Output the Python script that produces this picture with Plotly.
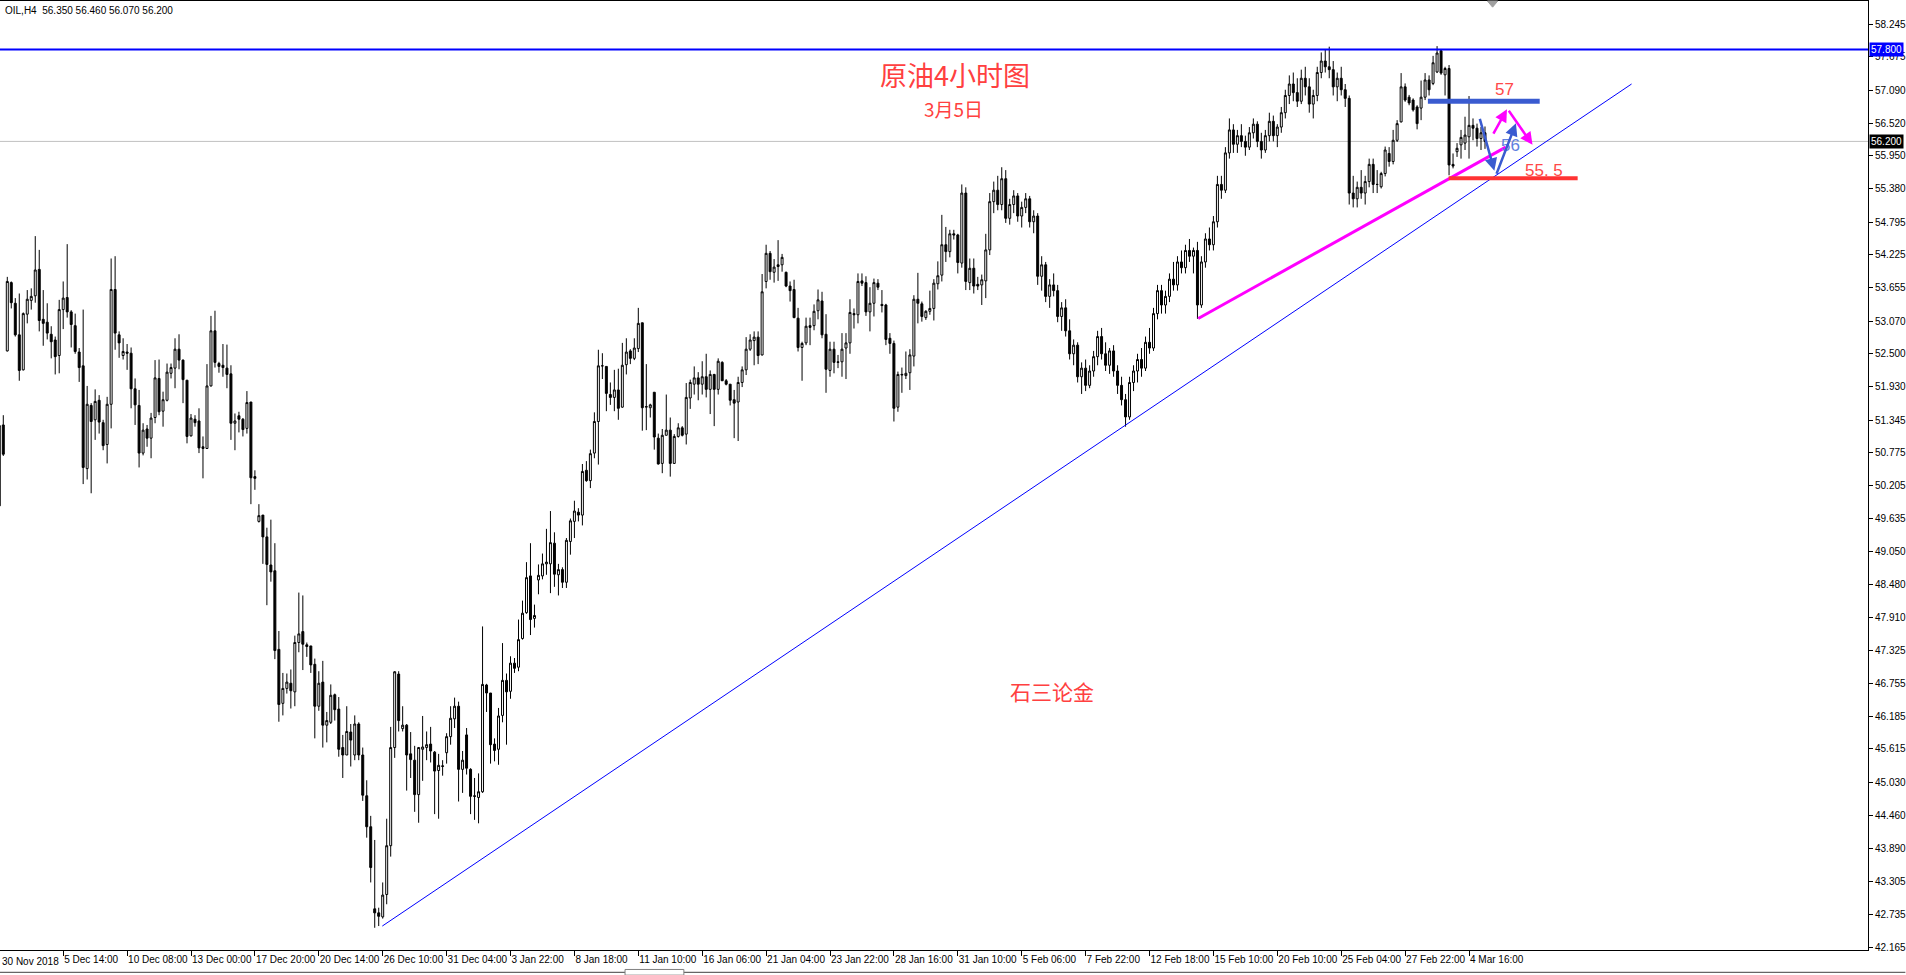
import plotly.graph_objects as go

# ---------------- data ----------------
tick_labels = ["30 Nov 2018", "5 Dec 14:00", "10 Dec 08:00", "13 Dec 00:00", "17 Dec 20:00",
               "20 Dec 14:00", "26 Dec 10:00", "31 Dec 04:00", "3 Jan 22:00", "8 Jan 18:00",
               "11 Jan 10:00", "16 Jan 06:00", "21 Jan 04:00", "23 Jan 22:00", "28 Jan 16:00",
               "31 Jan 10:00", "5 Feb 06:00", "7 Feb 22:00", "12 Feb 18:00", "15 Feb 10:00",
               "20 Feb 10:00", "25 Feb 04:00", "27 Feb 22:00", "4 Mar 16:00"]
bars_per_label = 16

y_ticks = [42.165, 42.735, 43.305, 43.890, 44.460, 45.030, 45.615, 46.185, 46.755, 47.325,
           47.910, 48.480, 49.050, 49.635, 50.205, 50.775, 51.345, 51.930, 52.500, 53.070,
           53.655, 54.225, 54.795, 55.380, 55.950, 56.520, 57.090, 57.675, 58.245]

opens = [49.85, 51.26, 52.55, 53.74, 53.38, 52.83, 52.22, 53.19, 53.43, 53.51,
         53.97, 53.10, 53.05, 52.84, 52.74, 52.47, 53.27, 53.48, 53.23, 52.99,
         52.53, 52.29, 50.50, 51.60, 51.35, 51.69, 51.30, 50.92, 51.62, 53.62,
         52.83, 52.47, 52.53, 52.51, 51.89, 51.60, 50.77, 51.19, 51.03, 51.39,
         52.07, 51.50, 51.69, 52.16, 52.25, 52.58, 52.39, 52.04, 51.07, 51.36,
         51.33, 50.88, 50.85, 51.94, 52.90, 52.33, 52.30, 52.25, 52.15, 51.29,
         51.42, 51.36, 51.20, 51.66, 50.36, 49.58, 49.69, 49.31, 48.82, 48.72,
         47.35, 46.41, 46.67, 46.76, 46.61, 47.47, 47.66, 47.43, 47.41, 47.09,
         46.36, 46.78, 46.03, 46.08, 46.56, 46.31, 45.64, 45.51, 45.91, 45.51,
         46.05, 45.51, 44.80, 44.26, 42.83, 42.76, 42.69, 43.08, 43.93, 45.64,
         46.92, 45.97, 46.03, 45.53, 45.42, 44.82, 45.61, 45.64, 45.70, 45.56,
         45.24, 45.31, 45.55, 45.83, 46.14, 46.36, 45.26, 45.86, 45.26, 44.80,
         44.77, 44.87, 46.73, 46.59, 45.70, 45.61, 46.20, 46.81, 46.62, 47.11,
         47.04, 47.54, 47.99, 48.63, 47.89, 48.56, 48.63, 48.84, 48.84, 49.20,
         48.65, 48.74, 48.52, 49.23, 49.58, 49.74, 49.69, 50.47, 50.29, 50.77,
         51.32, 52.29, 52.28, 51.79, 51.74, 51.87, 51.57, 52.31, 52.55, 52.42,
         52.59, 53.04, 51.57, 51.56, 51.83, 51.03, 50.59, 51.08, 51.17, 50.59,
         51.06, 51.21, 51.10, 51.73, 51.97, 52.08, 51.97, 52.10, 51.88, 52.14,
         51.88, 52.35, 52.03, 51.97, 51.70, 51.66, 52.00, 52.22, 52.58, 52.73,
         52.79, 52.48, 53.76, 54.25, 53.92, 54.05, 54.05, 53.92, 53.68, 53.62,
         53.12, 52.61, 52.69, 52.99, 52.99, 53.25, 53.42, 52.84, 52.21, 52.58,
         52.36, 52.36, 52.60, 52.69, 53.20, 53.18, 53.77, 53.74, 53.23, 53.38,
         53.73, 53.36, 53.35, 52.77, 52.68, 51.57, 52.13, 52.12, 52.17, 52.46,
         53.45, 53.37, 53.13, 53.24, 53.29, 53.72, 53.87, 54.40, 54.28, 54.59,
         54.57, 54.08, 55.30, 53.74, 53.99, 53.71, 53.70, 53.77, 54.31, 55.15,
         55.35, 55.10, 55.55, 54.86, 55.10, 55.25, 54.90, 55.05, 55.20, 54.80,
         54.90, 53.85, 54.05, 53.50, 53.70, 53.60, 53.15, 53.30, 52.90, 52.50,
         52.65, 52.10, 52.25, 51.95, 52.20, 52.45, 52.80, 52.50, 52.30, 52.55,
         52.20, 51.95, 51.70, 51.40, 52.00, 52.20, 52.40, 52.25, 52.70, 52.60,
         53.20, 53.60, 53.35, 53.50, 53.80, 53.70, 54.10, 54.00, 54.30, 54.20,
         54.30, 53.35, 54.10, 54.50, 54.40, 54.80, 55.45, 55.35, 56.00, 56.40,
         56.15, 56.30, 56.20, 56.10, 56.35, 56.50, 56.20, 56.05, 56.30, 56.55,
         56.30, 56.45, 56.70, 57.00, 57.20, 57.05, 56.90, 57.30, 57.15, 56.85,
         57.00, 57.40, 57.60, 57.50, 57.45, 57.15, 57.30, 57.10, 56.95, 55.30,
         55.20, 55.40, 55.30, 55.50, 55.80, 55.45, 55.41, 55.64, 55.99, 55.85,
         56.22, 56.54, 57.15, 56.97, 56.92, 56.80, 56.78, 56.97, 57.27, 57.21,
         57.41, 57.78, 57.36, 57.47, 55.80, 56.02, 56.14, 56.17, 56.28, 56.48,
         56.43, 56.25, 56.35]
highs = [51.40, 51.43, 53.84, 53.76, 53.47, 53.55, 53.22, 53.61, 53.64, 54.55,
         54.31, 53.61, 53.38, 52.98, 52.80, 53.44, 53.76, 54.41, 53.26, 53.20,
         52.60, 53.27, 51.94, 51.64, 51.88, 51.78, 51.35, 51.75, 54.16, 54.20,
         52.89, 52.77, 52.67, 52.61, 52.07, 51.87, 51.29, 51.26, 51.47, 52.39,
         52.40, 51.84, 52.33, 52.33, 52.77, 52.84, 52.40, 52.04, 51.45, 51.43,
         51.55, 51.06, 52.32, 53.16, 53.25, 52.36, 52.67, 52.66, 52.30, 51.46,
         51.49, 51.38, 51.85, 51.66, 50.47, 49.88, 49.69, 49.47, 49.61, 49.20,
         47.67, 46.94, 46.93, 47.00, 47.59, 48.34, 48.29, 47.47, 47.41, 47.19,
         46.97, 47.15, 46.26, 46.74, 46.58, 46.52, 45.86, 46.36, 46.05, 46.20,
         46.08, 45.64, 45.07, 44.45, 44.03, 42.85, 43.29, 44.40, 46.00, 46.97,
         46.97, 46.36, 46.05, 45.91, 45.67, 45.65, 46.19, 45.92, 46.00, 45.58,
         45.53, 45.42, 45.89, 46.36, 46.51, 46.44, 45.58, 45.98, 45.28, 45.11,
         45.19, 47.75, 46.75, 46.59, 45.80, 46.33, 47.46, 46.93, 47.23, 47.20,
         47.87, 48.20, 48.87, 49.20, 48.13, 48.83, 49.02, 49.45, 49.76, 49.39,
         48.84, 48.78, 49.29, 49.63, 49.94, 49.81, 50.58, 50.63, 50.83, 51.48,
         52.57, 52.51, 52.28, 52.00, 52.22, 52.24, 52.69, 52.77, 52.58, 52.77,
         53.30, 53.04, 52.32, 51.63, 51.83, 51.11, 51.19, 51.79, 51.39, 51.10,
         51.29, 51.24, 51.99, 52.05, 52.28, 52.18, 52.37, 52.50, 52.21, 52.15,
         52.42, 52.37, 52.06, 51.97, 51.87, 52.10, 52.28, 52.79, 52.84, 52.89,
         52.89, 53.89, 54.40, 54.29, 54.15, 54.48, 54.24, 53.93, 53.76, 53.79,
         53.30, 52.71, 53.13, 53.13, 53.36, 53.62, 53.58, 53.19, 52.71, 52.71,
         52.48, 52.86, 52.86, 53.45, 53.29, 53.90, 53.90, 53.85, 53.66, 53.81,
         53.80, 53.61, 53.37, 52.86, 52.73, 52.19, 52.26, 52.54, 52.58, 53.52,
         53.91, 53.41, 53.26, 53.60, 53.80, 54.11, 54.92, 54.71, 54.66, 54.66,
         54.59, 55.45, 55.40, 54.16, 54.16, 53.84, 53.88, 54.59, 55.30, 55.50,
         55.60, 55.75, 55.70, 55.20, 55.35, 55.30, 55.15, 55.30, 55.25, 55.00,
         54.95, 54.20, 54.10, 53.80, 53.90, 53.70, 53.40, 53.45, 53.10, 52.75,
         52.70, 52.35, 52.40, 52.30, 52.55, 52.90, 52.95, 52.70, 52.60, 52.65,
         52.30, 52.10, 51.80, 52.10, 52.30, 52.50, 52.60, 52.80, 52.95, 53.30,
         53.70, 53.70, 53.60, 53.90, 54.10, 54.20, 54.30, 54.40, 54.50, 54.35,
         54.45, 54.20, 54.60, 54.70, 54.90, 55.60, 55.60, 56.10, 56.60, 56.50,
         56.40, 56.50, 56.30, 56.45, 56.60, 56.55, 56.35, 56.40, 56.70, 56.65,
         56.50, 56.80, 57.10, 57.35, 57.40, 57.30, 57.45, 57.50, 57.30, 57.10,
         57.50, 57.75, 57.80, 57.85, 57.60, 57.40, 57.50, 57.20, 57.00, 55.60,
         55.50, 55.70, 55.60, 55.90, 55.90, 55.70, 55.67, 56.11, 56.10, 56.40,
         56.57, 57.39, 57.21, 57.01, 56.95, 56.83, 57.26, 57.39, 57.35, 57.69,
         57.86, 57.80, 57.50, 57.53, 55.99, 56.17, 56.40, 56.63, 56.99, 56.60,
         56.51, 56.45, 56.46]
lows = [49.80, 50.72, 52.54, 53.29, 52.80, 52.03, 52.21, 53.03, 53.27, 53.39,
        52.89, 52.64, 52.75, 52.42, 52.14, 52.16, 52.93, 53.13, 52.61, 52.50,
        52.01, 50.23, 50.31, 50.07, 51.00, 51.11, 50.82, 50.59, 51.20, 52.57,
        52.43, 52.40, 52.22, 51.55, 51.26, 50.52, 50.73, 50.88, 50.68, 51.29,
        51.43, 51.23, 51.67, 52.07, 51.90, 52.23, 51.64, 50.94, 51.06, 51.23,
        50.77, 50.33, 50.85, 51.93, 52.26, 52.17, 52.10, 51.90, 51.00, 50.82,
        51.13, 51.06, 51.11, 49.88, 50.13, 49.56, 48.84, 48.12, 48.53, 47.18,
        46.09, 46.20, 46.58, 46.32, 46.36, 47.30, 46.99, 47.22, 46.94, 45.80,
        46.28, 45.64, 45.73, 46.05, 46.11, 45.48, 45.11, 45.51, 45.31, 45.42,
        45.42, 44.71, 44.07, 43.29, 42.50, 42.53, 42.66, 42.91, 43.74, 45.46,
        45.92, 45.92, 44.89, 45.11, 44.52, 44.33, 45.06, 45.42, 45.38, 44.48,
        44.40, 45.15, 45.36, 45.69, 45.98, 44.70, 44.85, 45.17, 44.48, 44.38,
        44.32, 44.85, 46.26, 45.36, 45.40, 45.34, 46.08, 45.69, 46.49, 46.94,
        46.97, 47.52, 47.97, 47.60, 47.73, 48.31, 48.57, 48.65, 48.33, 48.44,
        48.29, 48.42, 48.42, 49.00, 49.29, 49.58, 49.51, 50.27, 50.16, 50.68,
        50.57, 52.06, 51.50, 51.61, 51.50, 51.35, 51.56, 52.14, 52.32, 52.39,
        52.53, 51.16, 51.17, 51.39, 50.83, 50.57, 50.42, 51.08, 50.36, 50.58,
        51.04, 51.06, 50.92, 51.54, 51.79, 51.69, 51.79, 51.74, 51.45, 51.24,
        51.79, 52.03, 51.95, 51.60, 51.03, 50.98, 51.92, 52.13, 52.55, 52.30,
        52.32, 52.47, 53.64, 53.79, 53.74, 53.77, 53.93, 53.66, 53.41, 53.12,
        52.54, 52.03, 52.65, 52.65, 52.91, 53.10, 52.77, 51.82, 52.10, 52.16,
        52.25, 52.10, 52.06, 52.50, 52.94, 53.03, 53.68, 53.16, 52.89, 53.15,
        53.61, 53.22, 52.65, 52.50, 51.32, 51.49, 51.82, 52.06, 51.87, 52.28,
        53.03, 53.06, 53.09, 53.18, 53.08, 53.62, 53.76, 54.10, 54.18, 54.49,
        53.90, 54.00, 53.61, 53.61, 53.55, 53.61, 53.35, 53.47, 54.22, 54.95,
        55.00, 55.00, 54.78, 54.75, 54.95, 54.80, 54.70, 54.95, 54.70, 54.60,
        53.70, 53.60, 53.40, 53.30, 53.50, 53.05, 52.90, 52.80, 52.40, 52.30,
        52.00, 51.80, 51.85, 51.90, 52.10, 52.30, 52.40, 52.20, 52.15, 52.10,
        51.80, 51.60, 51.23, 51.35, 51.85, 52.00, 52.10, 52.20, 52.50, 52.55,
        53.10, 53.20, 53.20, 53.40, 53.60, 53.60, 53.90, 53.90, 54.10, 53.90,
        53.11, 53.30, 54.00, 54.30, 54.30, 54.70, 55.20, 55.30, 55.90, 56.00,
        56.00, 56.10, 55.95, 56.05, 56.25, 56.10, 55.90, 56.00, 56.20, 56.20,
        56.10, 56.35, 56.60, 56.85, 56.90, 56.80, 56.85, 57.00, 56.70, 56.60,
        56.90, 57.30, 57.40, 57.30, 57.00, 56.90, 57.00, 56.80, 55.10, 55.05,
        55.05, 55.20, 55.10, 55.40, 55.30, 55.30, 55.38, 55.59, 55.76, 55.80,
        56.19, 56.53, 56.89, 56.83, 56.72, 56.41, 56.57, 56.92, 57.00, 57.18,
        57.39, 57.36, 57.00, 55.61, 55.73, 55.93, 55.90, 56.05, 55.90, 56.22,
        56.11, 56.05, 56.07]
closes = [51.25, 50.75, 53.76, 53.39, 52.83, 52.21, 53.20, 53.45, 53.50, 53.96,
          53.08, 53.03, 52.86, 52.71, 52.45, 53.27, 53.47, 53.23, 53.01, 52.54,
          52.26, 50.52, 51.62, 51.32, 51.67, 51.31, 50.90, 51.62, 53.62, 52.86,
          52.69, 52.54, 52.51, 51.89, 51.61, 50.77, 51.17, 51.03, 51.38, 52.08,
          51.49, 51.70, 52.18, 52.26, 52.58, 52.39, 52.05, 51.06, 51.38, 51.30,
          50.86, 50.85, 51.94, 52.90, 52.35, 52.28, 52.26, 52.14, 51.29, 51.33,
          51.36, 51.18, 51.65, 50.34, 50.33, 49.68, 49.31, 48.83, 48.70, 47.33,
          46.39, 46.67, 46.78, 46.63, 47.47, 47.62, 47.44, 47.40, 47.08, 46.36,
          46.76, 46.03, 46.11, 46.55, 46.30, 45.61, 45.51, 45.92, 45.77, 46.05,
          45.51, 44.81, 44.26, 43.55, 42.76, 42.70, 43.07, 43.93, 45.64, 46.96,
          46.11, 46.03, 45.51, 45.43, 44.82, 45.64, 45.65, 45.69, 45.58, 45.23,
          45.33, 45.32, 45.83, 46.15, 46.36, 45.26, 45.42, 45.28, 44.79, 44.79,
          44.87, 46.74, 46.59, 45.69, 45.59, 46.19, 46.81, 46.61, 47.11, 47.02,
          47.52, 47.98, 48.60, 47.87, 47.94, 48.64, 48.84, 48.87, 49.21, 48.66,
          48.74, 48.52, 49.25, 49.59, 49.76, 49.69, 50.45, 50.29, 50.76, 51.32,
          52.29, 52.29, 51.81, 51.74, 51.87, 51.55, 52.30, 52.53, 52.42, 52.60,
          53.03, 51.56, 51.58, 51.61, 51.05, 50.58, 51.08, 51.17, 50.59, 51.06,
          51.21, 51.08, 51.74, 52.00, 52.08, 51.97, 52.10, 51.88, 52.14, 51.88,
          52.37, 52.03, 51.97, 51.69, 51.64, 52.00, 52.22, 52.58, 52.74, 52.79,
          52.47, 53.58, 54.25, 53.93, 54.01, 54.02, 54.18, 53.68, 53.60, 53.13,
          52.61, 52.68, 52.98, 52.96, 53.24, 53.44, 52.83, 52.23, 52.58, 52.35,
          52.35, 52.58, 52.69, 53.22, 53.18, 53.76, 53.73, 53.23, 53.38, 53.74,
          53.66, 53.34, 52.75, 52.68, 51.55, 52.14, 52.14, 52.16, 52.48, 53.45,
          53.38, 53.15, 53.24, 53.29, 53.73, 53.86, 54.40, 54.28, 54.59, 54.57,
          54.09, 55.30, 53.76, 53.99, 53.68, 53.68, 53.79, 54.31, 55.15, 55.35,
          55.10, 55.55, 54.86, 55.10, 55.25, 54.90, 55.05, 55.20, 54.80, 54.90,
          53.85, 54.05, 53.50, 53.70, 53.60, 53.15, 53.30, 52.90, 52.50, 52.65,
          52.10, 52.25, 51.95, 52.20, 52.45, 52.80, 52.50, 52.30, 52.55, 52.20,
          51.95, 51.70, 51.40, 52.00, 52.20, 52.40, 52.25, 52.70, 52.60, 53.20,
          53.60, 53.35, 53.50, 53.80, 53.70, 54.10, 54.00, 54.30, 54.20, 54.30,
          53.35, 54.10, 54.50, 54.40, 54.80, 55.45, 55.35, 56.00, 56.40, 56.15,
          56.30, 56.20, 56.10, 56.35, 56.50, 56.20, 56.05, 56.30, 56.55, 56.30,
          56.45, 56.70, 57.00, 57.20, 57.05, 56.90, 57.30, 57.15, 56.85, 57.00,
          57.40, 57.60, 57.50, 57.45, 57.15, 57.30, 57.10, 56.95, 55.30, 55.20,
          55.40, 55.30, 55.50, 55.80, 55.45, 55.45, 55.64, 56.05, 55.85, 56.22,
          56.51, 57.15, 56.92, 56.87, 56.75, 56.51, 56.97, 57.27, 57.10, 57.57,
          57.74, 57.39, 57.47, 55.79, 55.77, 56.08, 56.27, 56.31, 56.48, 56.43,
          56.25, 56.35, 56.20]

# drawn objects (bar index, price)
hline_blue = 57.80
hline_last = 56.20
trend_blue = [(95.9, 42.53), (408.7, 57.20)]
trend_magenta = [(300.2, 53.115), (377.2, 56.10)]
level_57 = [(357.7, 56.90), (385.7, 56.90)]
level_555 = [(362.9, 55.56), (395.2, 55.56)]
arrows_blue = [((370.6, 56.62), (374.35, 55.69)), ((374.75, 55.61), (379.75, 56.515))]
arrows_magenta = [((373.9, 56.31), (377.5, 56.76)), ((377.7, 56.76), (383.9, 56.14))]
shift_marker_bar = 373.9

# ---------------- figure ----------------
x = list(range(len(opens)))
fig = go.Figure(go.Candlestick(
    x=x, open=opens, high=highs, low=lows, close=closes,
    increasing=dict(line=dict(color="black", width=1), fillcolor="white"),
    decreasing=dict(line=dict(color="black", width=1), fillcolor="black"),
    whiskerwidth=0, showlegend=False, hoverinfo="skip"))

shapes = []
shapes.append(dict(type="line", xref="paper", x0=0, x1=1, yref="y", y0=hline_last, y1=hline_last,
                   line=dict(color="#C0C0C0", width=1), layer="below"))
shapes.append(dict(type="line", xref="paper", x0=0, x1=1, yref="y", y0=hline_blue, y1=hline_blue,
                   line=dict(color="#0000FF", width=2)))
shapes.append(dict(type="line", x0=trend_blue[0][0], y0=trend_blue[0][1], x1=trend_blue[1][0],
                   y1=trend_blue[1][1], line=dict(color="#0000FF", width=1)))
shapes.append(dict(type="line", x0=trend_magenta[0][0], y0=trend_magenta[0][1], x1=trend_magenta[1][0],
                   y1=trend_magenta[1][1], line=dict(color="#FF00FF", width=3)))
shapes.append(dict(type="line", x0=level_57[0][0], y0=level_57[0][1], x1=level_57[1][0],
                   y1=level_57[1][1], line=dict(color="#3A5BD0", width=5)))
shapes.append(dict(type="line", x0=level_555[0][0], y0=level_555[0][1], x1=level_555[1][0],
                   y1=level_555[1][1], line=dict(color="#FF3333", width=4)))
# chart-shift marker (small grey triangle at the top edge)
shapes.append(dict(type="path", xref="x", yref="paper",
                   path=f"M {shift_marker_bar-1.3},1 L {shift_marker_bar+1.3},1 L {shift_marker_bar},0.9935 Z",
                   fillcolor="#A0A0A0", line=dict(color="#A0A0A0", width=1)))
# bottom status strip
shapes.append(dict(type="line", xref="paper", yref="paper", x0=0, x1=1.02, y0=-0.0235, y1=-0.0235,
                   line=dict(color="#404040", width=1)))
shapes.append(dict(type="rect", xref="paper", yref="paper", x0=0.3346, x1=0.3661, y0=-0.0265, y1=-0.0205,
                   fillcolor="white", line=dict(color="#808080", width=1)))

ann = []
cjk = "Noto Sans CJK SC"
ann.append(dict(text="原油4小时图", x=239.2, y=57.37, showarrow=False,
                font=dict(family=cjk, size=27, color="#FF4040")))
ann.append(dict(text="3月5日", x=239.0, y=56.77, showarrow=False,
                font=dict(family=cjk, size=19, color="#FF4040")))
ann.append(dict(text="石三论金", x=263.7, y=46.62, showarrow=False,
                font=dict(family=cjk, size=21, color="#FF4040")))
ann.append(dict(text="57", x=377.0, y=57.10, showarrow=False,
                font=dict(family="Liberation Sans", size=17, color="#FF4848")))
ann.append(dict(text="55.\u00a05", x=386.8, y=55.70, showarrow=False,
                font=dict(family="Liberation Sans", size=17, color="#FF4848")))
ann.append(dict(text="56", x=378.5, y=56.13, showarrow=False,
                font=dict(family="Liberation Sans", size=17, color="#5F7FE0")))
for (tail, head) in arrows_blue:
    ann.append(dict(text="", x=head[0], y=head[1], ax=tail[0], ay=tail[1], axref="x", ayref="y",
                    showarrow=True, arrowhead=2, arrowsize=1, arrowwidth=2.5, arrowcolor="#3A5BD0",
                    standoff=0))
for (tail, head) in arrows_magenta:
    ann.append(dict(text="", x=head[0], y=head[1], ax=tail[0], ay=tail[1], axref="x", ayref="y",
                    showarrow=True, arrowhead=2, arrowsize=1, arrowwidth=2.5, arrowcolor="#FF00FF",
                    standoff=0))
# header
ann.append(dict(text="OIL,H4\u00a0\u00a0" + " ".join(f"{v:.3f}" for v in (56.35, 56.46, 56.07, 56.20)),
                xref="paper", yref="paper", x=0, y=1, xanchor="left", yanchor="top",
                xshift=3, yshift=-2, showarrow=False,
                font=dict(family="Liberation Sans", size=10, color="black")))
# first time label (its tick lies just left of the visible area)
ann.append(dict(text=tick_labels[0], xref="paper", x=0, yref="paper", y=0, xanchor="left", yanchor="top",
                xshift=0, yshift=-4, showarrow=False,
                font=dict(family="Liberation Sans", size=10, color="black")))
# price boxes on the axis
for val, bg in ((hline_blue, "#0000FF"), (hline_last, "#000000")):
    ann.append(dict(text=f"{val:.3f}", xref="paper", yref="y", x=1, y=val, xanchor="left",
                    yanchor="middle", xshift=1, showarrow=False, bgcolor=bg, borderpad=1,
                    font=dict(family="Liberation Sans", size=10, color="white")))

fig.update_layout(
    width=1906, height=975,
    margin=dict(l=0, r=35, t=1, b=25),
    paper_bgcolor="white", plot_bgcolor="white",
    shapes=shapes, annotations=ann, showlegend=False,
    xaxis=dict(range=[0.175, 467.9], tickmode="array",
               tickvals=[i * bars_per_label for i in range(1, len(tick_labels))],
               ticktext=tick_labels[1:], ticks="outside", ticklen=5, tickcolor="black",
               ticklabelposition="outside right", tickangle=0,
               tickfont=dict(family="Liberation Sans", size=10, color="black"),
               showline=True, linecolor="black", linewidth=1, mirror=True,
               showgrid=False, zeroline=False, rangeslider=dict(visible=False), fixedrange=True),
    yaxis=dict(side="right", range=[42.113, 58.646], tickmode="array", tickvals=y_ticks,
               ticktext=[f"{v:.3f}" for v in y_ticks], ticks="outside", ticklen=4, tickcolor="black",
               tickfont=dict(family="Liberation Sans", size=10, color="black"),
               showline=True, linecolor="black", linewidth=1, showgrid=False, zeroline=False,
               fixedrange=True),
)

fig.write_html("out.html", config={"displayModeBar": False},
               post_script="document.body.style.margin='0';document.body.style.overflow='hidden';")
